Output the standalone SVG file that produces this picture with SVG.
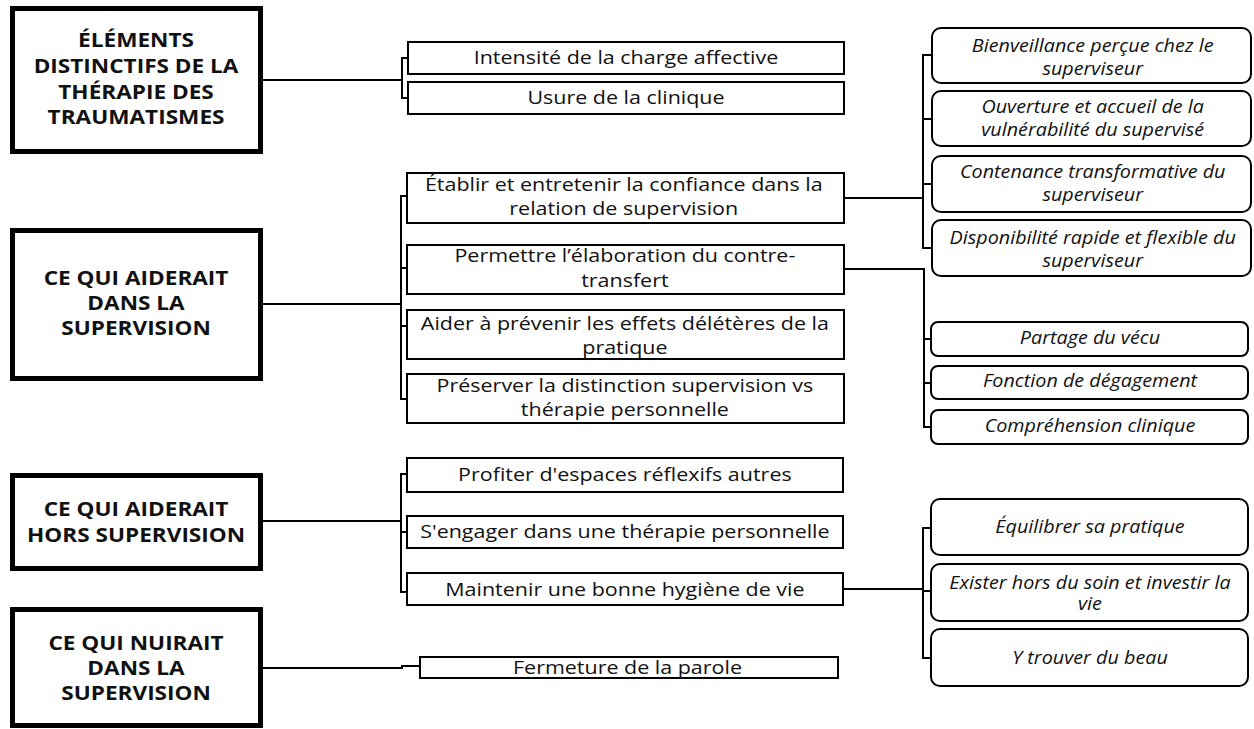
<svg xmlns="http://www.w3.org/2000/svg" width="1254" height="729" viewBox="0 0 1254 729">
<style>
.hd{fill:#fff;stroke:#000;stroke-width:5}
.bx{fill:#fff;stroke:#000;stroke-width:2}
.rb{fill:#fff;stroke:#000;stroke-width:2}
.ht{font-family:"Open Sans","Noto Sans",sans-serif;font-weight:bold;font-size:20px;fill:#111;text-anchor:middle}
.t{font-family:"Open Sans","Noto Sans",sans-serif;font-size:19px;fill:#111;text-anchor:middle}
.i{font-family:"Open Sans","Noto Sans",sans-serif;font-style:italic;font-size:17.5px;fill:#111;text-anchor:middle}
.c{fill:none;stroke:#000;stroke-width:2}
</style>
<rect width="1254" height="729" fill="#fff"/>
<g id="connectors">
<path class="c" d="M263,80 H402 M408,58 H402 V98 H408"/>
<path class="c" d="M263,304 H401 M407,196 H401 V399 H407 M401,268 H407 M401,326 H407"/>
<path class="c" d="M263,521 H401 M407,474 H401 V592 H407 M401,532 H407"/>
<path class="c" d="M263,668 H402 V666 H420"/>
<path class="c" d="M844,198 H923 M932,55 H923 V248 H932 M923,119 H932 M923,184 H932"/>
<path class="c" d="M844,269 H924 V427 H931 M924,339 H931 M924,383 H931"/>
<path class="c" d="M843,589 H923 M931,528 H923 V658 H931 M923,591 H931"/>
</g>
<g id="h1"><rect class="hd" x="12.5" y="8.5" width="248" height="143"/>
<g transform="scale(1.13,1)"><text class="ht" x="120.4" y="47">ÉLÉMENTS</text><text class="ht" x="120.4" y="73">DISTINCTIFS DE LA</text><text class="ht" x="120.4" y="99">THÉRAPIE DES</text><text class="ht" x="120.4" y="124">TRAUMATISMES</text></g></g>
<g id="h2"><rect class="hd" x="12.5" y="230.5" width="248" height="148"/>
<g transform="scale(1.13,1)"><text class="ht" x="120.4" y="285">CE QUI AIDERAIT</text><text class="ht" x="120.4" y="310">DANS LA</text><text class="ht" x="120.4" y="335">SUPERVISION</text></g></g>
<g id="h3"><rect class="hd" x="12.5" y="475.5" width="248" height="93"/>
<g transform="scale(1.13,1)"><text class="ht" x="120.4" y="516">CE QUI AIDERAIT</text><text class="ht" x="120.4" y="542">HORS SUPERVISION</text></g></g>
<g id="h4"><rect class="hd" x="12.5" y="609.5" width="248" height="116"/>
<g transform="scale(1.13,1)"><text class="ht" x="120.4" y="650">CE QUI NUIRAIT</text><text class="ht" x="120.4" y="675">DANS LA</text><text class="ht" x="120.4" y="700">SUPERVISION</text></g></g>

<g id="n-intensite"><rect class="bx" x="408" y="42" width="436" height="32"/><g transform="scale(1.13,1)"><text class="t" x="554" y="64">Intensité de la charge affective</text></g></g>
<g id="n-usure"><rect class="bx" x="408" y="82" width="436" height="32"/><g transform="scale(1.13,1)"><text class="t" x="554" y="104">Usure de la clinique</text></g></g>

<g id="n-etablir"><rect class="bx" x="407" y="173" width="437" height="50"/><g transform="scale(1.13,1)"><text class="t" x="552" y="191">Établir et entretenir la confiance dans la</text><text class="t" x="552" y="215">relation de supervision</text></g></g>
<g id="n-permettre"><rect class="bx" x="407" y="245" width="437" height="49"/><g transform="scale(1.13,1)"><text class="t" x="553" y="262">Permettre l’élaboration du contre-</text><text class="t" x="553" y="287">transfert</text></g></g>
<g id="n-aider"><rect class="bx" x="407" y="310" width="437" height="49"/><g transform="scale(1.13,1)"><text class="t" x="553" y="330">Aider à prévenir les effets délétères de la</text><text class="t" x="553" y="354">pratique</text></g></g>
<g id="n-preserver"><rect class="bx" x="407" y="374" width="437" height="49"/><g transform="scale(1.13,1)"><text class="t" x="553" y="392">Préserver la distinction supervision vs</text><text class="t" x="553" y="416">thérapie personnelle</text></g></g>

<g id="n-bienveillance"><rect class="rb" x="932" y="28" width="319" height="55" rx="9"/><g transform="scale(1.13,1)"><text class="i" x="967" y="52">Bienveillance perçue chez le</text><text class="i" x="967" y="75">superviseur</text></g></g>
<g id="n-ouverture"><rect class="rb" x="932" y="91" width="319" height="55" rx="9"/><g transform="scale(1.13,1)"><text class="i" x="967" y="113">Ouverture et accueil de la</text><text class="i" x="967" y="136">vulnérabilité du supervisé</text></g></g>
<g id="n-contenance"><rect class="rb" x="932" y="156" width="319" height="56" rx="9"/><g transform="scale(1.13,1)"><text class="i" x="967" y="178">Contenance transformative du</text><text class="i" x="967" y="201">superviseur</text></g></g>
<g id="n-disponibilite"><rect class="rb" x="932" y="220" width="319" height="56" rx="9"/><g transform="scale(1.13,1)"><text class="i" x="967" y="244">Disponibilité rapide et flexible du</text><text class="i" x="967" y="267">superviseur</text></g></g>

<g id="n-partage"><rect class="rb" x="931" y="322" width="317" height="34" rx="7"/><g transform="scale(1.13,1)"><text class="i" x="964.6" y="344">Partage du vécu</text></g></g>
<g id="n-fonction"><rect class="rb" x="931" y="366" width="317" height="33" rx="7"/><g transform="scale(1.13,1)"><text class="i" x="964.6" y="387">Fonction de dégagement</text></g></g>
<g id="n-comprehension"><rect class="rb" x="931" y="410" width="317" height="34" rx="7"/><g transform="scale(1.13,1)"><text class="i" x="964.6" y="432">Compréhension clinique</text></g></g>

<g id="n-profiter"><rect class="bx" x="407" y="458" width="436" height="34"/><g transform="scale(1.13,1)"><text class="t" x="553" y="481">Profiter d'espaces réflexifs autres</text></g></g>
<g id="n-engager"><rect class="bx" x="407" y="516" width="436" height="32"/><g transform="scale(1.13,1)"><text class="t" x="553" y="538">S'engager dans une thérapie personnelle</text></g></g>
<g id="n-maintenir"><rect class="bx" x="407" y="573" width="436" height="32"/><g transform="scale(1.13,1)"><text class="t" x="553" y="596">Maintenir une bonne hygiène de vie</text></g></g>

<g id="n-equilibrer"><rect class="rb" x="931" y="499" width="317" height="56" rx="9"/><g transform="scale(1.13,1)"><text class="i" x="964.6" y="533">Équilibrer sa pratique</text></g></g>
<g id="n-exister"><rect class="rb" x="931" y="564" width="317" height="57" rx="9"/><g transform="scale(1.13,1)"><text class="i" x="964.6" y="589">Exister hors du soin et investir la</text><text class="i" x="964.6" y="610">vie</text></g></g>
<g id="n-beau"><rect class="rb" x="931" y="629" width="317" height="57" rx="9"/><g transform="scale(1.13,1)"><text class="i" x="964.6" y="664">Y trouver du beau</text></g></g>

<g id="n-fermeture"><rect class="bx" x="420" y="657" width="418" height="21"/><g transform="scale(1.13,1)"><text class="t" x="555.3" y="674">Fermeture de la parole</text></g></g>
</svg>
